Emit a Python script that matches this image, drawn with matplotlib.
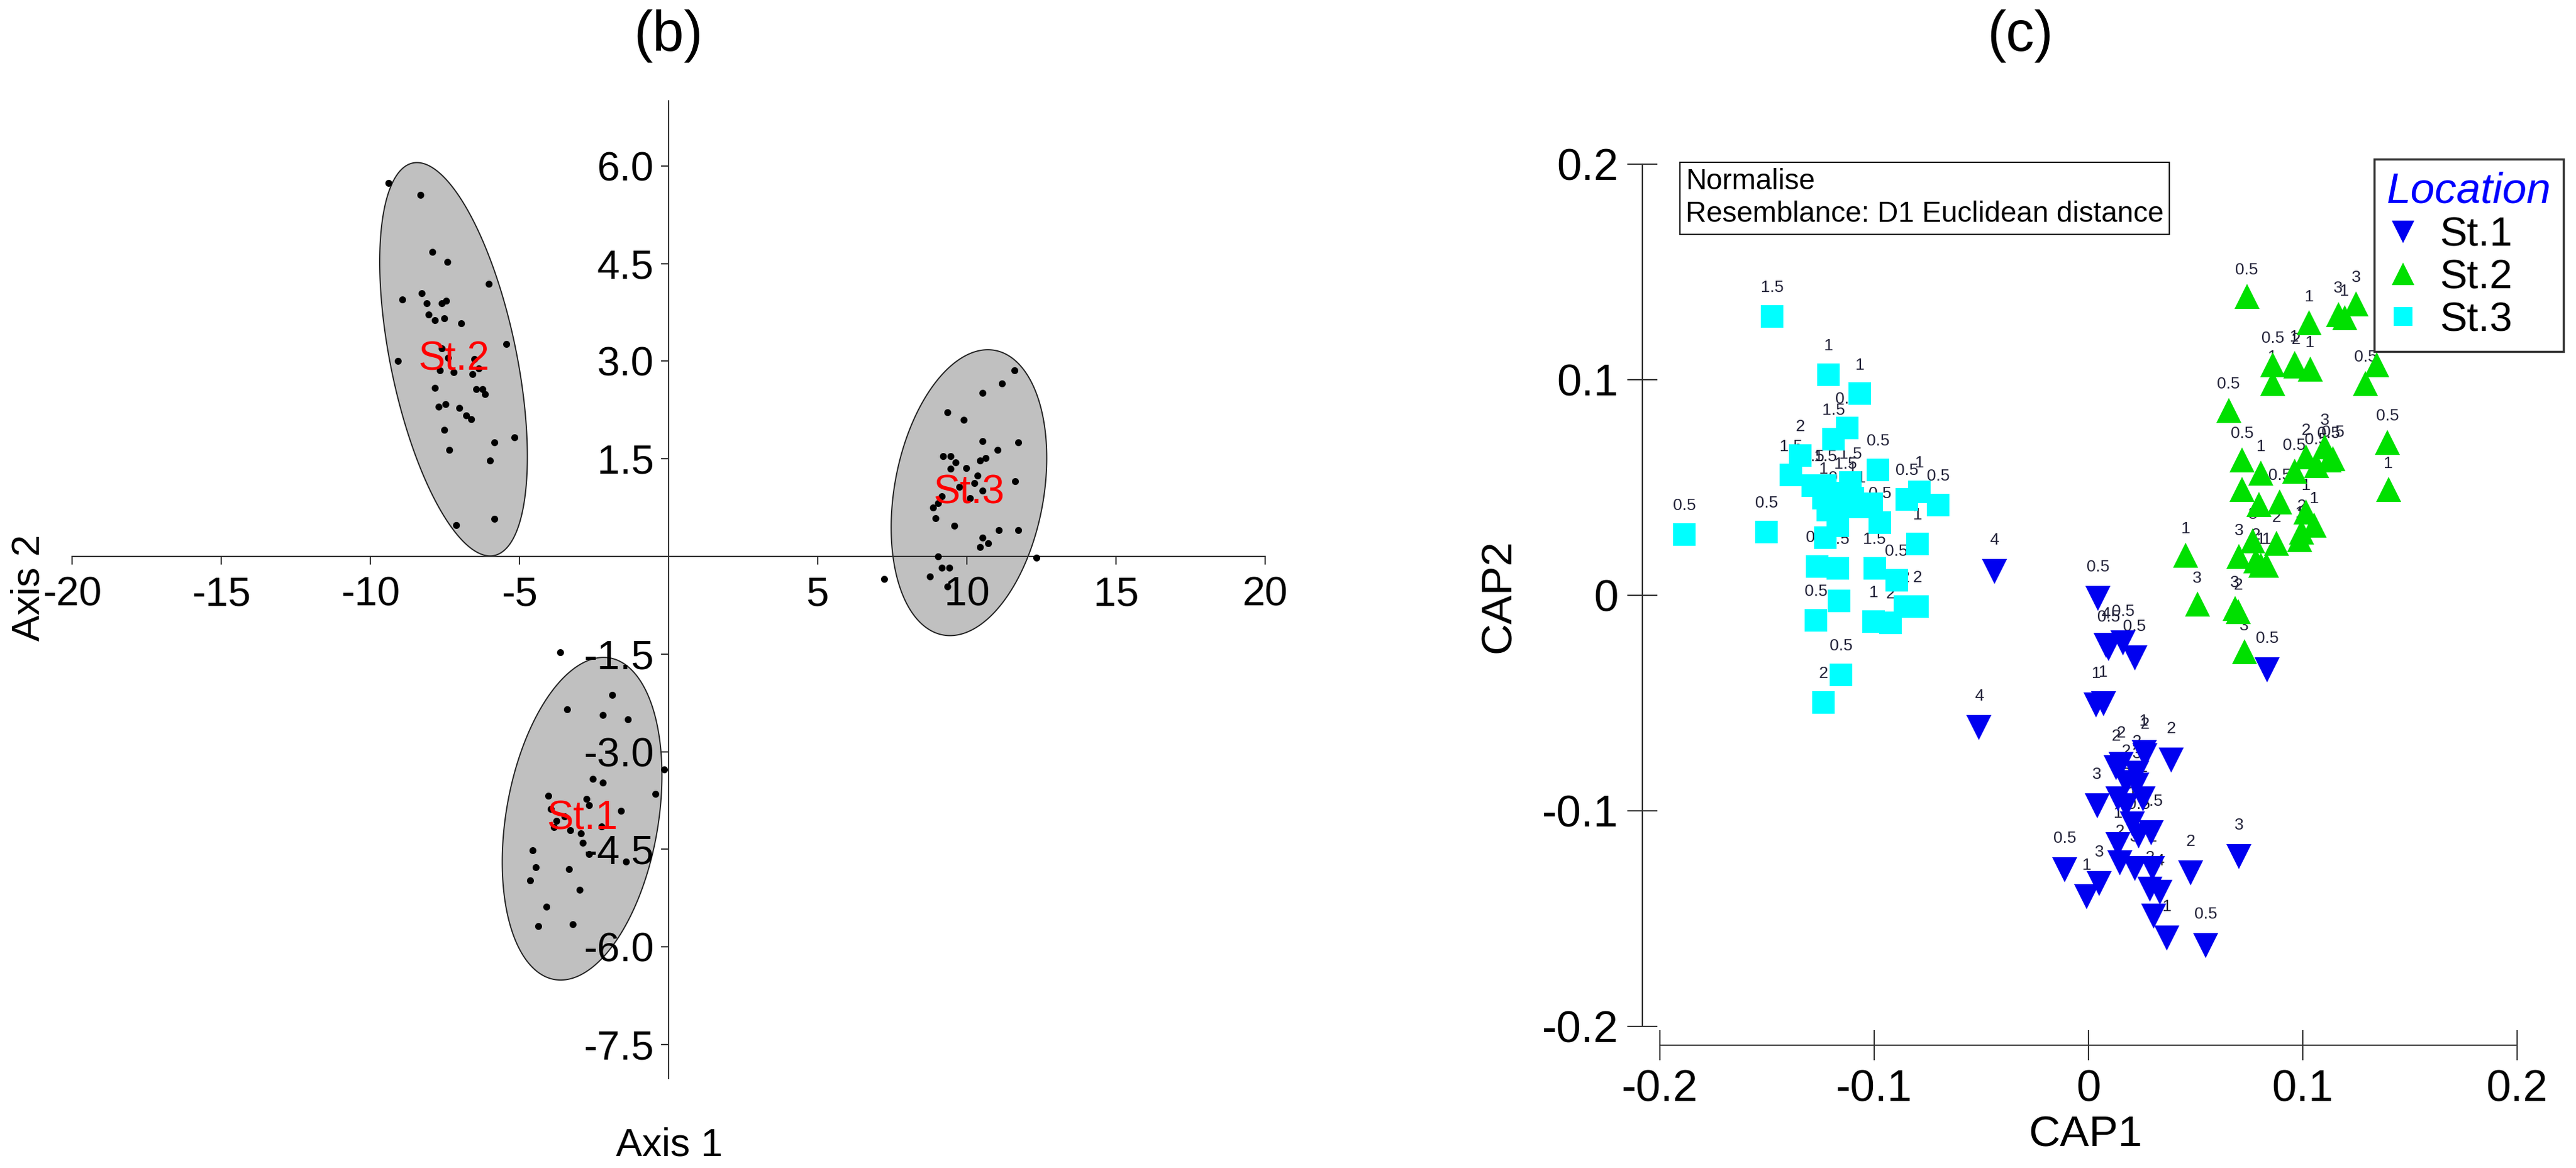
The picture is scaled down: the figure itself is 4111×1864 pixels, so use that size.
import numpy as np
import matplotlib
matplotlib.use('Agg')
import matplotlib.pyplot as plt
from matplotlib.lines import Line2D

plt.rcParams['font.family'] = ['Liberation Sans', 'DejaVu Sans']
plt.rcParams['axes.unicode_minus'] = False

W, H = 4111, 1864

# ---- panel (b): ordination scores ----
b_st1_x = [-3.63, -1.90, -3.41, -2.20, -1.37, -0.14, -2.55, -2.20, -4.04, -0.44,
           -2.75, -2.66, -3.96, -1.59, -3.76, -3.49, -3.85, -2.25, -3.30, -2.94,
           -2.88, -4.56, -2.66, -1.43, -4.45, -3.35, -4.64, -2.99, -4.09, -3.21, -4.37]
b_st1_y = [-1.47, -2.13, -2.35, -2.44, -2.50, -3.27, -3.42, -3.48, -3.68, -3.65,
           -3.73, -3.82, -3.88, -3.91, -4.06, -4.00, -4.16, -4.15, -4.21, -4.26,
           -4.40, -4.52, -4.57, -4.69, -4.78, -4.80, -4.98, -5.12, -5.38, -5.65, -5.68]
b_st2_x = [-9.40, -8.32, -7.91, -7.42, -6.02, -8.93, -8.27, -8.10, -7.61, -7.45,
           -8.05, -7.83, -7.53, -6.95, -5.44, -9.07, -7.61, -7.39, -7.66, -7.20,
           -6.51, -6.37, -6.57, -7.83, -6.46, -6.24, -6.15, -7.72, -7.47, -7.01,
           -6.79, -6.62, -7.53, -5.16, -5.85, -7.36, -5.99, -7.12, -5.85]
b_st2_y = [5.74, 5.56, 4.68, 4.53, 4.19, 3.95, 4.04, 3.89, 3.89, 3.93,
           3.72, 3.63, 3.66, 3.58, 3.26, 3.00, 3.20, 3.05, 2.86, 2.83,
           3.03, 2.89, 2.80, 2.59, 2.57, 2.57, 2.49, 2.30, 2.34, 2.28,
           2.17, 2.11, 1.95, 1.83, 1.75, 1.64, 1.47, 0.48, 0.58]
b_st3_x = [11.59, 11.18, 10.52, 9.34, 9.89, 11.73, 10.52, 11.02, 9.20, 9.45,
           10.63, 10.44, 9.62, 9.97, 9.45, 10.36, 11.62, 9.75, 10.25, 10.52,
           9.15, 9.04, 10.11, 8.96, 9.59, 11.07, 11.73, 10.52, 10.71, 10.44,
           12.34, 9.04, 9.15, 9.42, 8.76, 7.23, 9.34, 8.87]
b_st3_y = [2.86, 2.66, 2.51, 2.21, 2.10, 1.75, 1.77, 1.64, 1.54, 1.54,
           1.51, 1.47, 1.44, 1.36, 1.35, 1.24, 1.16, 1.07, 1.13, 1.01,
           0.92, 0.82, 0.90, 0.59, 0.47, 0.40, 0.40, 0.29, 0.20, 0.14,
           -0.02, 0.00, -0.17, -0.17, -0.31, -0.35, -0.46, 0.75]

stations = ['St.1', 'St.2', 'St.3']
ell_cx = [-2.90, -7.21, 10.07]
ell_cy = [-4.03, 3.03, 0.98]
ell_a = [5.47, 6.72, 4.85]       # semi axes, in x-axis units
ell_b = [2.55, 2.11, 2.50]
ell_tilt = [-9.7, 11.7, -10.3]   # degrees from vertical

b_xticks = [-20, -15, -10, -5, 5, 10, 15, 20]
b_yticks = [6.0, 4.5, 3.0, 1.5, -1.5, -3.0, -4.5, -6.0, -7.5]

# ---- panel (c): CAP scores with labels ----
c_st1_x = [-0.0440, -0.0511, 0.0045, 0.0093, 0.0162, 0.0215, 0.0081, 0.0035, 0.0069, 0.0259,
           0.0264, 0.0386, 0.0128, 0.0152, 0.0225, 0.0040, 0.0137, 0.0176, 0.0205, 0.0254,
           0.0293, 0.0235, 0.0137, 0.0147, 0.0215, 0.0298, 0.0332, 0.0288, 0.0303, 0.0366,
           0.0547, 0.0478, 0.0703, -0.0111, -0.0009, 0.0050, 0.0834, 0.0176, 0.0225]
c_st1_y = [0.0110, -0.0612, -0.0014, -0.0248, -0.0221, -0.0290, -0.0232, -0.0510, -0.0503, -0.0730,
           -0.0744, -0.0765, -0.0799, -0.0785, -0.0827, -0.0978, -0.0944, -0.0978, -0.1061, -0.0944,
           -0.1102, -0.1116, -0.1157, -0.1240, -0.1267, -0.1267, -0.1378, -0.1364, -0.1488, -0.1591,
           -0.1626, -0.1288, -0.1212, -0.1274, -0.1398, -0.1336, -0.0345, -0.0868, -0.0882]
c_st1_lab = ['4', '4', '0.5', '0.5', '0.5', '0.5', '4', '1', '1', '1',
             '2', '2', '2', '2', '2', '3', '3', '2', '1', '2',
             '0.5', '0.5', '1', '2', '3', '2', '4', '2', '1', '1',
             '0.5', '2', '3', '0.5', '1', '3', '0.5', '2', '3']
c_st2_x = [0.0739, 0.1029, 0.1166, 0.1195, 0.1249, 0.0859, 0.0859, 0.0961, 0.0968, 0.1034,
           0.1346, 0.1292, 0.0654, 0.1395, 0.1400, 0.0717, 0.0717, 0.0805, 0.0961, 0.1015,
           0.1102, 0.1063, 0.1141, 0.0893, 0.0795, 0.1015, 0.1054, 0.0995, 0.0878, 0.0766,
           0.0703, 0.0781, 0.0830, 0.0454, 0.0508, 0.0683, 0.0698, 0.0727, 0.0985, 0.1122, 0.0805]
c_st2_y = [0.1388, 0.1264, 0.1302, 0.1289, 0.1352, 0.1070, 0.0983, 0.1077, 0.1064, 0.1050,
           0.1070, 0.0983, 0.0859, 0.0709, 0.0490, 0.0628, 0.0490, 0.0568, 0.0575, 0.0642,
           0.0689, 0.0601, 0.0635, 0.0434, 0.0421, 0.0387, 0.0327, 0.0293, 0.0240, 0.0253,
           0.0179, 0.0159, 0.0139, 0.0186, -0.0042, -0.0062, -0.0075, -0.0263, 0.0260, 0.0628, 0.0139]
c_st2_lab = ['0.5', '1', '3', '1', '3', '0.5', '1', '1', '2', '1',
             '1', '0.5', '0.5', '0.5', '1', '0.5', '3', '1', '0.5', '2',
             '3', '0.5', '0.5', '0.5', '1', '1', '1', '2', '2', '3',
             '3', '2', '1', '1', '3', '3', '2', '3', '1', '0.5', '1']
c_st3_x = [-0.1885, -0.1503, -0.1476, -0.1212, -0.1066, -0.1127, -0.1190, -0.1344, -0.1388, -0.0983,
           -0.1286, -0.1227, -0.1135, -0.1100, -0.0847, -0.0789, -0.0701, -0.0798, -0.0974, -0.1013,
           -0.1061, -0.1159, -0.1217, -0.1169, -0.1227, -0.1266, -0.1169, -0.0998, -0.0896, -0.0798,
           -0.0857, -0.1164, -0.1271, -0.1003, -0.0925, -0.1154, -0.1237, -0.1110, -0.1237]
c_st3_y = [0.0282, 0.0293, 0.1293, 0.1024, 0.0935, 0.0776, 0.0723, 0.0649, 0.0557, 0.0581,
           0.0508, 0.0508, 0.0473, 0.0451, 0.0444, 0.0480, 0.0420, 0.0239, 0.0338, 0.0423,
           0.0409, 0.0409, 0.0395, 0.0324, 0.0268, 0.0133, 0.0126, 0.0126, 0.0070, -0.0051,
           -0.0051, -0.0027, -0.0117, -0.0121, -0.0128, -0.0369, -0.0496, 0.0522, 0.0451]
c_st3_lab = ['0.5', '0.5', '1.5', '1', '1', '0.5', '1.5', '2', '1.5', '0.5',
             '1.5', '1.5', '1.5', '1', '0.5', '1', '0.5', '1', '0.5', '2',
             '1', '0.5', '1', '1', '1', '0.5', '1.5', '1.5', '0.5', '2',
             '2', '1', '0.5', '1', '2', '0.5', '2', '1.5', '1']

c_ticks = [-0.2, -0.1, 0, 0.1, 0.2]
c_ticklabels = ['-0.2', '-0.1', '0', '0.1', '0.2']

st_colors = ['#0000f0', '#00e000', '#00ffff']
st_markers = ['v', '^', 's']
st_msize = [29, 29, 26]
lab_offset = [36, 30, 33]

fig = plt.figure(figsize=(W / 100, H / 100), dpi=100)

# ================= panel (b) =================
b_xlim = (-20, 20)
b_ylim = (-8.02, 7.0)
axb = fig.add_axes([115 / W, 1 - 1721 / H, 1904 / W, 1560 / H])
axb.set_xlim(*b_xlim)
axb.set_ylim(*b_ylim)

# ratio of pixel scales so the ellipses keep their shape on screen
k = (1560 / (b_ylim[1] - b_ylim[0])) / (1904 / (b_xlim[1] - b_xlim[0]))
t = np.linspace(0, 2 * np.pi, 300)
for cx, cy, a, b, tilt in zip(ell_cx, ell_cy, ell_a, ell_b, ell_tilt):
    th = np.radians(90 + tilt)
    u = a * np.cos(t)
    v = b * np.sin(t)
    ex = cx + u * np.cos(th) - v * np.sin(th)
    ey = cy + (u * np.sin(th) + v * np.cos(th)) / k
    axb.fill(ex, ey, facecolor='#c0c0c0', edgecolor='#222222', lw=1.4, zorder=1)

for xs, ys in [(b_st1_x, b_st1_y), (b_st2_x, b_st2_y), (b_st3_x, b_st3_y)]:
    axb.plot(xs, ys, 'o', color='black', markersize=8, markeredgewidth=0, zorder=3)

for name, cx, cy in zip(stations, ell_cx, ell_cy):
    axb.text(cx, cy, name, color='red', fontsize=46, ha='center', va='center', zorder=4)

axb.spines['left'].set_position(('data', 0))
axb.spines['bottom'].set_position(('data', 0))
axb.spines['right'].set_visible(False)
axb.spines['top'].set_visible(False)
for s in ['left', 'bottom']:
    axb.spines[s].set_linewidth(1.5)
    axb.spines[s].set_color('#333333')
axb.set_xticks(b_xticks)
axb.set_xticklabels([str(v) for v in b_xticks])
axb.set_yticks(b_yticks)
axb.set_yticklabels(['%.1f' % v for v in b_yticks])
axb.tick_params(direction='out', length=9, width=1.5, color='#333333', labelsize=47)
axb.tick_params(axis='x', pad=14)
axb.tick_params(axis='y', pad=8)
axb.patch.set_visible(False)

fig.text(1067 / W, 1 - 57 / H, '(b)', fontsize=65, ha='center', va='center')
fig.text(1068 / W, 1 - 1828 / H, 'Axis 1', fontsize=45, ha='center', va='center')
fig.text(46 / W, 1 - 938 / H, 'Axis 2', fontsize=45, ha='center', va='center', rotation=90)

# ================= panel (c) =================
axc = fig.add_axes([2649 / W, 1 - 1638 / H, 1368 / W, 1376 / H])
axc.set_xlim(-0.2, 0.2)
axc.set_ylim(-0.2, 0.2)

series = [(c_st1_x, c_st1_y, c_st1_lab), (c_st2_x, c_st2_y, c_st2_lab),
          (c_st3_x, c_st3_y, c_st3_lab)]
for i, (xs, ys, labs) in enumerate(series):
    axc.plot(xs, ys, st_markers[i], color=st_colors[i], markersize=st_msize[i],
             markeredgewidth=0, linestyle='none', zorder=3)
    for x, y, lab in zip(xs, ys, labs):
        axc.annotate(lab, (x, y), xytext=(0, lab_offset[i]), textcoords='offset points',
                     ha='center', va='center', fontsize=19, color='#24243a', zorder=2)

axc.spines['right'].set_visible(False)
axc.spines['top'].set_visible(False)
axc.spines['left'].set_position(('outward', 20))
axc.spines['bottom'].set_position(('outward', 21.5))
for s in ['left', 'bottom']:
    axc.spines[s].set_linewidth(1.5)
    axc.spines[s].set_color('#333333')
axc.set_xticks(c_ticks)
axc.set_xticklabels(c_ticklabels)
axc.set_yticks(c_ticks)
axc.set_yticklabels(c_ticklabels)
axc.tick_params(direction='inout', length=35, width=1.5, color='#333333', labelsize=51, pad=10)
axc.patch.set_visible(False)

handles = [Line2D([], [], marker=m, color=c, linestyle='none', markeredgewidth=0,
                  markersize=ms)
           for m, c, ms in zip(st_markers, st_colors, [26, 26, 22])]
leg = axc.legend(handles, stations, loc='upper right',
                 bbox_to_anchor=(4091 / W, 1 - 254 / H), bbox_transform=fig.transFigure,
                 fontsize=47, title='Location',
                 title_fontproperties={'size': 50, 'style': 'italic'},
                 frameon=True, fancybox=False, edgecolor='#333333', framealpha=1,
                 borderpad=0.3, labelspacing=0.12, handlelength=0.8, handletextpad=0.5,
                 borderaxespad=0, alignment='left')
leg.get_title().set_color('#0000ff')
leg.get_frame().set_linewidth(2.5)

fig.text(2690 / W, 1 - 268 / H, 'Normalise\nResemblance: D1 Euclidean distance',
         fontsize=33, ha='left', va='top', linespacing=1.25,
         bbox=dict(boxstyle='square,pad=0.2', facecolor='white', edgecolor='black', linewidth=1.5))

fig.text(3224 / W, 1 - 58 / H, '(c)', fontsize=65, ha='center', va='center')
fig.text(3328 / W, 1 - 1811 / H, 'CAP1', fontsize=50, ha='center', va='center')
fig.text(2392 / W, 1 - 951 / H, 'CAP2', fontsize=50, ha='center', va='center', rotation=90)

fig.savefig('out.png', dpi=100, facecolor='white')
